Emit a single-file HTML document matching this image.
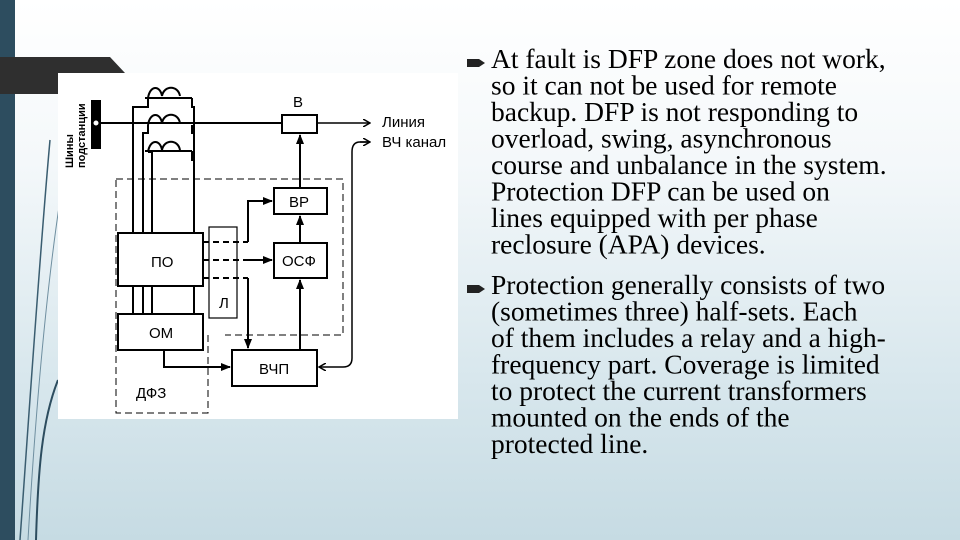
<!DOCTYPE html>
<html><head><meta charset="utf-8"><style>
html,body{margin:0;padding:0}
body{width:960px;height:540px;overflow:hidden;background:linear-gradient(#ffffff 0%,#f4f8fa 30%,#d8e7ed 70%,#c6dbe3 100%)}
svg{position:absolute;left:0;top:0}
</style></head><body>
<svg width="960" height="540" viewBox="0 0 960 540" xmlns="http://www.w3.org/2000/svg">
<defs><marker id="a" markerWidth="10" markerHeight="8" refX="9" refY="4" orient="auto" markerUnits="userSpaceOnUse"><path d="M0,0 L10,4 L0,8 z" fill="#000"/></marker>
<marker id="s" markerWidth="8" markerHeight="8" refX="7" refY="4" orient="auto" markerUnits="userSpaceOnUse"><path d="M0,0 L7,4 L0,8" fill="none" stroke="#000" stroke-width="1.5"/></marker></defs>
<rect x="0" y="0" width="15" height="540" fill="#2d4d5f"/>
<path d="M20,540 C30,400 40,250 50,140" stroke="#3a5d70" stroke-width="1.5" fill="none"/>
<path d="M28,540 C35,420 45,300 60,200" stroke="#6f8fa0" stroke-width="1" fill="none"/>
<path d="M36,540 C38,470 42,420 58,380" stroke="#2d4d5f" stroke-width="2" fill="none"/>
<path d="M0,57 L110,57 L125,73 L125,94 L0,94 z" fill="#2f2f2f"/>
<rect x="58" y="73" width="400" height="346" fill="#fff"/>
<g stroke="#000" fill="none" stroke-width="2">
<rect x="92" y="101" width="8" height="47" fill="#000"/>
<line x1="96" y1="123" x2="282" y2="123"/><line x1="317" y1="123" x2="370" y2="123" marker-end="url(#s)" stroke-width="1.5"/>
<rect x="282" y="115" width="35" height="18"/>
<path d="M148,98 C150,85 160,85 162,96 C164,85 178,85 180,96 M145,98 H192 M148,125 C150,112 160,112 162,123 C164,112 178,112 180,123 M148,152 C150,139 160,139 162,150 C164,139 178,139 180,150 M145,151 H192"/>
<path d="M133,233 V107 H148 V98 M143,233 V133 H148 V125 M152,233 V152 H148 M192,98 V107 H194 V233 M192,125 V133 H194 M192,151 V160 H194"/>
<path d="M133,286 V314 M143,286 V314 M152,286 V314 M194,286 V314"/>
<rect x="118" y="233" width="85" height="53" fill="#fff"/>
<rect x="118" y="314" width="85" height="36" fill="#fff"/>
<rect x="209" y="227" width="28" height="91" stroke-width="1.2"/>
<rect x="274" y="188" width="53" height="26"/>
<rect x="274" y="243" width="53" height="35"/>
<rect x="232" y="350" width="85" height="36"/>
<path d="M116,179 H343 V335 H225 M208,335 V413 H116 V179" stroke-width="1" stroke-dasharray="7,4"/>
<path d="M203,242 H248 M203,260 H248 M203,278 H248" stroke-dasharray="6,4"/>
<path d="M248,242 V201 H272" marker-end="url(#a)"/>
<line x1="248" y1="260" x2="272" y2="260" marker-end="url(#a)"/>
<path d="M248,278 V348" marker-end="url(#a)"/>
<path d="M164,350 V367 H230" marker-end="url(#a)"/>
<line x1="300" y1="350" x2="300" y2="280" marker-end="url(#a)"/>
<line x1="300" y1="243" x2="300" y2="216" marker-end="url(#a)"/>
<line x1="300" y1="188" x2="300" y2="135" marker-end="url(#a)"/>
<path d="M370,142 H360 Q352,142 352,152 V358 Q352,367 343,367 H319" stroke-width="1.5" marker-end="url(#s)"/>
<line x1="360" y1="142" x2="370" y2="142" stroke-width="1.5" marker-end="url(#s)"/>
</g>
<circle cx="96" cy="123" r="3" fill="#fff" stroke="#000"/>
<g font-family="Liberation Sans, DejaVu Sans, sans-serif" font-size="15" fill="#000">
<text x="293" y="107">В</text>
<text x="382" y="127">Линия</text>
<text x="382" y="147">ВЧ канал</text>
<text x="151" y="267">ПО</text>
<text x="149" y="338">ОМ</text>
<text x="219" y="308">Л</text>
<text x="289" y="207">ВР</text>
<text x="282" y="266">ОСФ</text>
<text x="259" y="374">ВЧП</text>
<text x="136" y="398">ДФЗ</text>
<text transform="translate(73,168) rotate(-90)" font-size="11" font-weight="bold">Шины</text>
<text transform="translate(85,168) rotate(-90)" font-size="11" font-weight="bold">подстанции</text>
</g>
<g fill="#222"><path d="M467,59 h12 l6,4 l-6,4 h-12 z"/><path d="M467,285 h12 l6,4 l-6,4 h-12 z"/></g>
<g font-family="Liberation Serif, serif" font-size="27.5" fill="#000">
<text x="491" y="68">At fault is DFP zone does not work,</text>
<text x="491" y="94.5">so it can not be used for remote</text>
<text x="491" y="121">backup. DFP is not responding to</text>
<text x="491" y="147.5">overload, swing, asynchronous</text>
<text x="491" y="174">course and unbalance in the system.</text>
<text x="491" y="200.5">Protection DFP can be used on</text>
<text x="491" y="227">lines equipped with per phase</text>
<text x="491" y="253.5">reclosure (APA) devices.</text>
<text x="491" y="294">Protection generally consists of two</text>
<text x="491" y="320.5">(sometimes three) half-sets. Each</text>
<text x="491" y="347">of them includes a relay and a high-</text>
<text x="491" y="373.5">frequency part. Coverage is limited</text>
<text x="491" y="400">to protect the current transformers</text>
<text x="491" y="426.5">mounted on the ends of the</text>
<text x="491" y="453">protected line.</text>
</g>
</svg>
</body></html>
